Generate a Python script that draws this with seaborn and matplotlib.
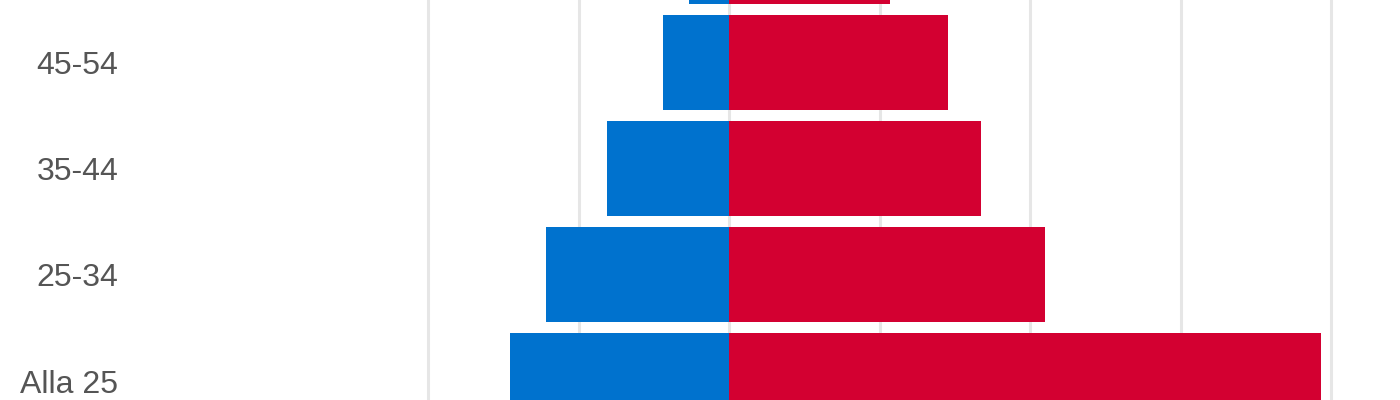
import pandas as pd
import seaborn as sns
import matplotlib.pyplot as plt

# Age groups, top to bottom (first one is mostly cut off at the top edge)
age_groups = ['55-64', '45-54', '35-44', '25-34', 'Alla 25']

# Values (grid step = 10)
blue_values = [2.66, 4.4, 8.13, 12.18, 14.55]
red_values = [10.7, 14.55, 16.72, 20.98, 39.33]

grid_ticks = [-20, -10, 0, 10, 20, 30, 40]

blue_color = '#0072ce'
red_color = '#d30031'

# Build long-form frame, blue goes to the left
df = pd.DataFrame({
    'group': age_groups * 2,
    'value': [-v for v in blue_values] + red_values,
    'side': ['blue'] * len(age_groups) + ['red'] * len(age_groups),
})

sns.set_style('white')
plt.rcParams['font.family'] = ['Liberation Sans', 'DejaVu Sans']

fig = plt.figure(figsize=(14, 4), dpi=100)
# axes spans from x=128px to the right edge, full height (the chart is cropped)
ax = fig.add_axes([128 / 1400, 0, 1 - 128 / 1400, 1])

sns.barplot(data=df, x='value', y='group', hue='side', order=age_groups,
            palette={'blue': blue_color, 'red': red_color}, saturation=1,
            dodge=False, width=0.895, linewidth=0,
            legend=False, ax=ax, zorder=2)

# 15.05 px per unit, zero at x=729px
px_per_unit = 15.05
ax.set_xlim((128 - 729) / px_per_unit, (1400 - 729) / px_per_unit)
ax.set_xticks(grid_ticks)
ax.set_xticklabels([])

# row pitch 106.2 px, 45-54 centred at y=62.4px
top = 1 - 62.4 / 106.2
ax.set_ylim(top + 400 / 106.2, top)

ax.grid(axis='x', color='#e6e6e6', linewidth=2.2, zorder=0)
ax.grid(axis='y', visible=False)
ax.set_axisbelow(True)
for s in ax.spines.values():
    s.set_visible(False)

ax.set_xlabel('')
ax.set_ylabel('')
ax.tick_params(axis='both', length=0)
ax.tick_params(axis='y', pad=7, labelsize=23, labelcolor='#555555')

fig.savefig('out.png', dpi=100)
